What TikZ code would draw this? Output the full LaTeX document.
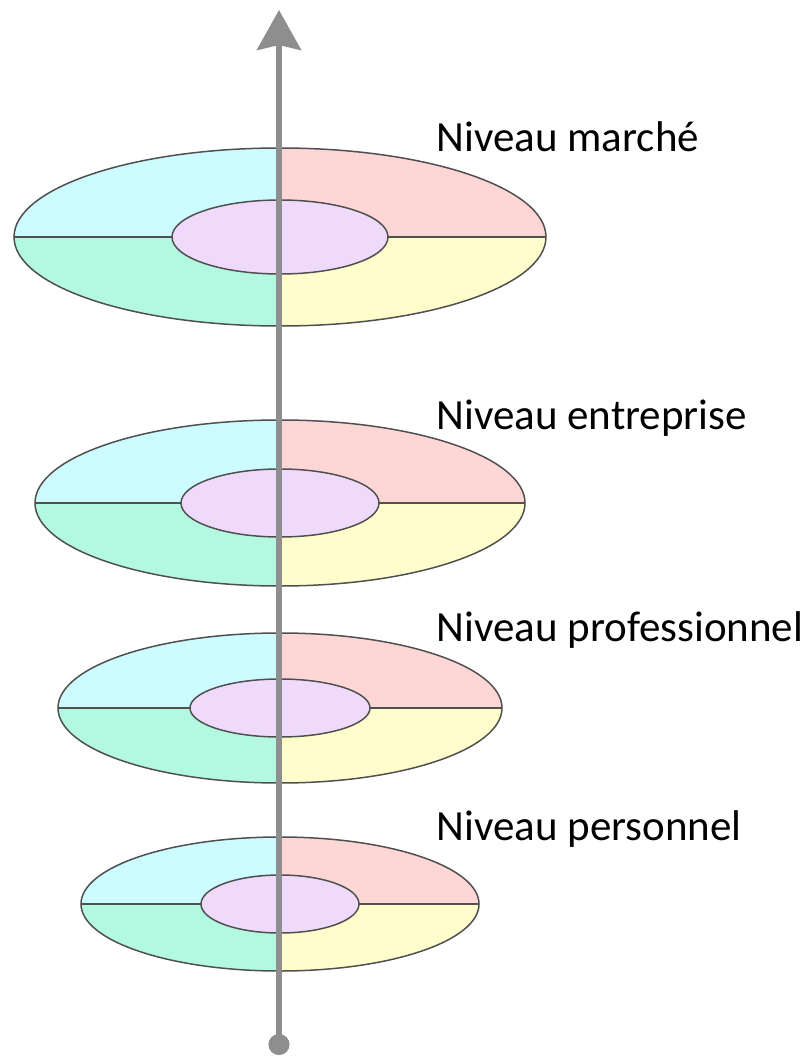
\documentclass[tikz,border=0pt]{standalone}
\usepackage{fontspec}
\setmainfont{Carlito}
\usetikzlibrary{arrows.meta}
\definecolor{ringcyan}{HTML}{CCFCFF}
\definecolor{ringpink}{HTML}{FFD6D6}
\definecolor{ringmint}{HTML}{B3F8E0}
\definecolor{ringyellow}{HTML}{FFFDCC}
\definecolor{ringlilac}{HTML}{F0DAFC}
\definecolor{ringline}{HTML}{505050}
\definecolor{axisgray}{HTML}{8E8E8E}

\begin{document}
\begin{tikzpicture}[
    x=1pt, y=-1pt,
    rim/.style={draw=ringline, line width=1.5pt},
    level/.style={anchor=base west, font=\fontsize{43}{50}\selectfont},
    axis/.style={draw=axisgray, line width=6pt, {Circle[length=21pt]}-{Stealth[length=40pt, width=44pt, inset=5pt]}}
]
    \useasboundingbox (0,0) rectangle (811,1064);

    % Disks (centre y / outer radii / inner radii)
    \foreach \cy/\rx/\ry/\ix/\iy in {237/266/89/108/37, 503/245/83/99/34, 708/222/75/90/29, 904/199/67/79/29} {
        \begin{scope}
            \clip (280,\cy) ellipse [x radius=\rx pt, y radius=\ry pt];
            \fill [ringcyan] (280-\rx,\cy-\ry) rectangle (280,\cy);
            \fill [ringpink] (280,\cy-\ry) rectangle (280+\rx,\cy);
            \fill [ringmint] (280-\rx,\cy) rectangle (280,\cy+\ry);
            \fill [ringyellow] (280,\cy) rectangle (280+\rx,\cy+\ry);
        \end{scope}
        \draw [rim] (280,\cy) ellipse [x radius=\rx pt, y radius=\ry pt];
        \draw [rim] (280-\rx,\cy) -- (280-\ix,\cy);
        \draw [rim] (280+\ix,\cy) -- (280+\rx,\cy);
        \draw [rim, fill=ringlilac] (280,\cy) ellipse [x radius=\ix pt, y radius=\iy pt];
    }

    % Labels
    \node [level] (marche) at (433,152) {Niveau marché};
    \node [level] (entreprise) at (433,429) {Niveau entreprise};
    \node [level] (professionnel) at (433,641) {Niveau professionnel};
    \node [level] (personnel) at (433,840) {Niveau personnel};

    % Axis
    \coordinate (foot) at (279,1055);
    \coordinate (top) at (279,10);
    \draw [axis] (foot) -- (top);

\end{tikzpicture}
\end{document}
